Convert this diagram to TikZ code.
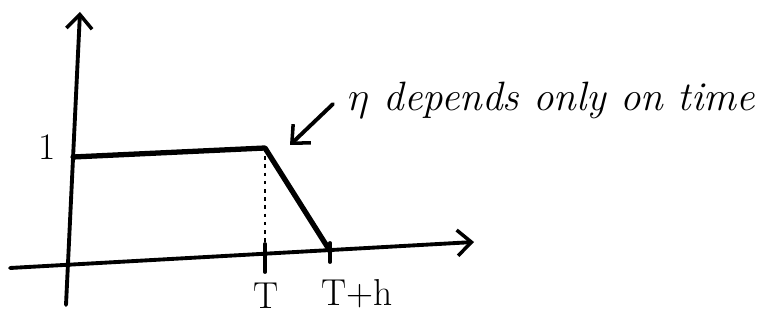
\documentclass[tikz,border=0pt]{standalone}
\usetikzlibrary{arrows.meta}
\begin{document}
\begin{tikzpicture}[x=0.03cm,y=-0.03cm,
  axis/.style={line width=3.3pt,line cap=round},
  curve/.style={line width=4.5pt,line cap=round,line join=round},
  tip/.style={-{Straight Barb[length=12pt,width=22pt,line width=3pt]}},
  lab/.style={font=\fontsize{32}{36}\selectfont},
  note/.style={font=\fontsize{35}{40}\selectfont\itshape,anchor=west}]
\useasboundingbox (0,0) rectangle (771,320);
% axes
\coordinate (ybot) at (66,305);
\coordinate (ytop) at (80,12);
\coordinate (xl) at (10,268);
\coordinate (xr) at (474,242);
\draw[axis,tip] (ybot) -- (ytop);
\draw[axis,tip] (xl) -- (xr);
% curve
\coordinate (a) at (73,157);
\coordinate (b) at (265,148);
\coordinate (c) at (330,251);
\draw[curve] (a) -- (b) -- (c);
% dotted drop
\coordinate (bT) at (265,256);
\draw[line width=1.2pt,dash pattern=on 3pt off 4pt] (b) -- (bT);
% ticks
\coordinate (t1a) at (265,244); \coordinate (t1b) at (265,272);
\coordinate (t2a) at (330,243); \coordinate (t2b) at (330,262);
\draw[axis] (t1a) -- (t1b);
\draw[axis] (t2a) -- (t2b);
% labels
\node[lab] (one) at (47,147) {1};
\node[lab] (T) at (266,296) {T};
\node[lab] (Th) at (357,294) {T+h};
% annotation
\node[note] (txt) at (344,100) {\resizebox{!}{15pt}{$\eta$} depends only on time};
\coordinate (arrS) at (333,104);
\coordinate (arrE) at (290,145);
\draw[axis,tip] (arrS) -- (arrE);
\end{tikzpicture}
\end{document}
